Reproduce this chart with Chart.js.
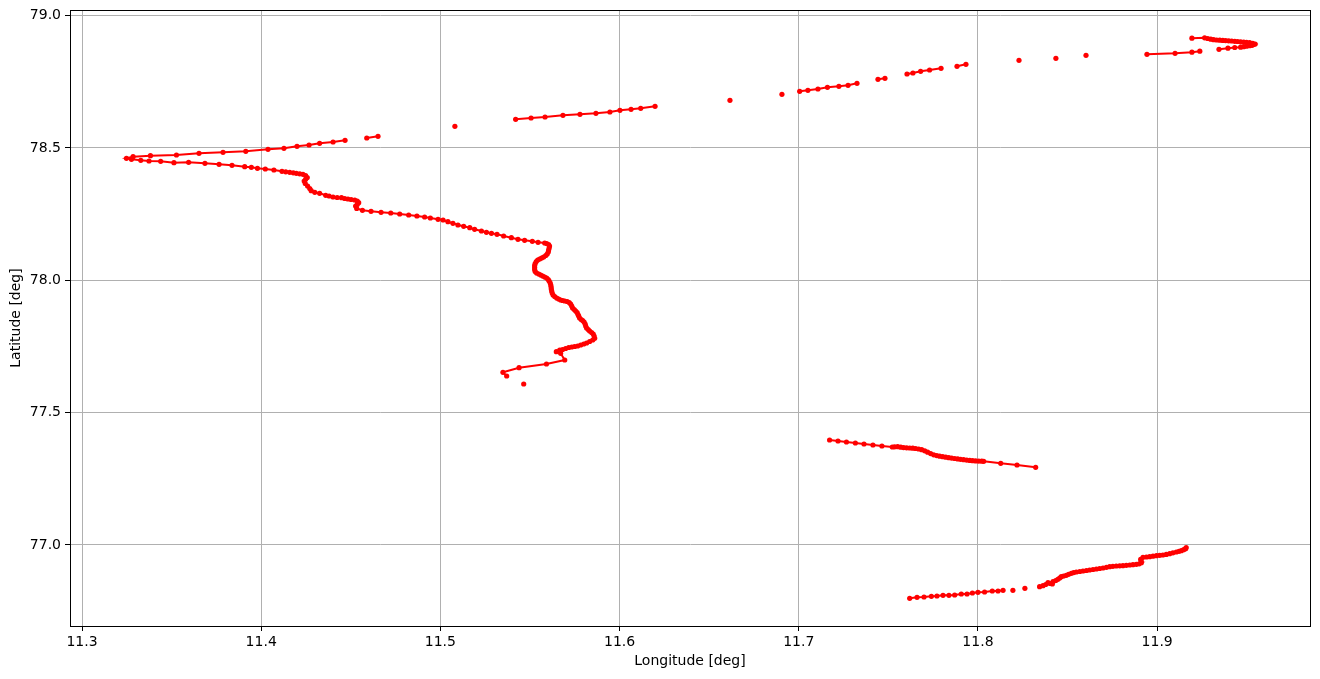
<!DOCTYPE html>
<html>
<head>
<meta charset="utf-8">
<script src="https://cdn.jsdelivr.net/npm/chart.js@4/dist/chart.umd.min.js"></script>
<style>
  html, body { margin: 0; padding: 0; background: #ffffff; }
  #wrap { position: relative; width: 1320px; height: 679px; }
</style>
</head>
<body>
<div id="wrap"><canvas id="c" width="1320" height="679"></canvas></div>
<script>
// ---- Data (longitude / latitude, degrees) ----
const xTicks = [11.3, 11.4, 11.5, 11.6, 11.7, 11.8, 11.9];
const yTicks = [77.0, 77.5, 78.0, 78.5, 79.0];
const xLabel = 'Longitude [deg]';
const yLabel = 'Latitude [deg]';

// Main track (southern end -> western tip -> back east)
const lonA = [11.5370,11.5349,11.5439,11.5592,11.5694,11.5671,11.5647,11.5666,11.5682,11.5699,11.5716,11.5733,11.5749,11.5766,11.5783,11.5800,11.5816,11.5833,11.5850,11.5861,11.5858,11.5853,11.5844,11.5833,11.5825,11.5816,11.5811,11.5808,11.5802,11.5794,11.5786,11.5777,11.5772,11.5768,11.5763,11.5755,11.5747,11.5738,11.5733,11.5727,11.5719,11.5708,11.5694,11.5682,11.5671,11.5660,11.5649,11.5638,11.5629,11.5624,11.5621,11.5619,11.5618,11.5616,11.5613,11.5607,11.5602,11.5593,11.5582,11.5571,11.5560,11.5549,11.5537,11.5529,11.5526,11.5526,11.5526,11.5529,11.5535,11.5543,11.5554,11.5565,11.5576,11.5588,11.5596,11.5602,11.5604,11.5607,11.5609,11.5604,11.5593,11.5582,11.5545,11.5513,11.5470,11.5433,11.5396,11.5353,11.5316,11.5285,11.5257,11.5229,11.5191,11.5164,11.5130,11.5098,11.5070,11.5042,11.5015,11.4987,11.4944,11.4912,11.4869,11.4823,11.4773,11.4723,11.4669,11.4613,11.4565,11.4533,11.4527,11.4536,11.4544,11.4536,11.4522,11.4502,11.4484,11.4466,11.4448,11.4424,11.4401,11.4379,11.4360,11.4326,11.4299,11.4279,11.4271,11.4259,11.4246,11.4240,11.4248,11.4257,11.4248,11.4233,11.4215,11.4196,11.4179,11.4159,11.4137,11.4116,11.4071,11.4023,11.3979,11.3945,11.3908,11.3837,11.3765,11.3686,11.3595,11.3513,11.3439,11.3374,11.3328,11.3276,11.3248,11.3285,11.3382,11.3527,11.3653,11.3787,11.3914,11.4038,11.4127,11.4200,11.4267,11.4326,11.4401,11.4468];
const latA = [77.6383,77.6523,77.6697,77.6837,77.6988,77.7241,77.7302,77.7366,77.7385,77.7422,77.7460,77.7479,77.7498,77.7517,77.7555,77.7593,77.7630,77.7687,77.7744,77.7808,77.7895,77.7971,77.8027,77.8084,77.8141,77.8197,77.8273,77.8349,77.8424,77.8481,77.8519,77.8575,77.8651,77.8707,77.8783,77.8840,77.8896,77.8953,77.9029,77.9104,77.9161,77.9199,77.9218,77.9237,77.9256,77.9293,77.9331,77.9388,77.9444,77.9520,77.9596,77.9671,77.9747,77.9822,77.9898,77.9974,78.0030,78.0087,78.0125,78.0163,78.0200,78.0238,78.0276,78.0333,78.0408,78.0484,78.0560,78.0635,78.0710,78.0767,78.0805,78.0843,78.0880,78.0937,78.0994,78.1070,78.1145,78.1221,78.1296,78.1353,78.1391,78.1410,78.1436,78.1474,78.1512,78.1550,78.1610,78.1674,78.1738,78.1776,78.1814,78.1863,78.1927,78.1988,78.2041,78.2090,78.2154,78.2215,78.2279,78.2305,78.2355,78.2392,78.2430,78.2468,78.2506,78.2543,78.2570,78.2608,78.2646,78.2714,78.2808,78.2865,78.2933,78.2997,78.3035,78.3054,78.3073,78.3091,78.3122,78.3129,78.3148,78.3186,78.3212,78.3288,78.3326,78.3386,78.3469,78.3564,78.3658,78.3753,78.3817,78.3885,78.3961,78.4006,78.4025,78.4044,78.4063,78.4082,78.4101,78.4119,78.4169,78.4206,78.4233,78.4271,78.4293,78.4346,78.4384,78.4422,78.4460,78.4444,78.4497,78.4509,78.4535,78.4573,78.4611,78.4671,78.4709,78.4736,78.4800,78.4837,78.4875,78.4951,78.4989,78.5064,78.5113,78.5178,78.5227,78.5291];

const lonB = [11.4589, 11.4652];
const latB = [78.5378, 78.5442];

const lonC = [11.5420,11.5506,11.5584,11.5684,11.5779,11.5868,11.5946,11.6002,11.6064,11.6118,11.6198];
const latC = [78.6085,78.6134,78.6172,78.6236,78.6274,78.6311,78.6361,78.6425,78.6463,78.6500,78.6576];

const lonD = [11.7005,11.7051,11.7107,11.7160,11.7224,11.7275,11.7325];
const latD = [78.7143,78.7181,78.7230,78.7294,78.7332,78.7370,78.7445];

const lonE = [11.7442, 11.7481];
const latE = [78.7596, 78.7634];

const lonF = [11.7604,11.7637,11.7680,11.7730,11.7794];
const latF = [78.7797,78.7834,78.7899,78.7948,78.8012];

const lonG = [11.7883, 11.7933];
const latG = [78.8088, 78.8163];

const lonH = [11.8943,11.9100,11.9194,11.9238];
const latH = [78.8541,78.8579,78.8621,78.8658];

const lonI = [11.9194,11.9265,11.9282,11.9299,11.9315,11.9332,11.9349,11.9366,11.9382,11.9399,11.9416,11.9433,11.9449,11.9466,11.9483,11.9499,11.9516,11.9533,11.9547,11.9539,11.9530,11.9516,11.9499,11.9483,11.9466,11.9433,11.9395,11.9345];
const latI = [78.9150,78.9165,78.9138,78.9112,78.9093,78.9082,78.9074,78.9067,78.9059,78.9051,78.9044,78.9033,78.9025,78.9014,78.9006,78.8995,78.8980,78.8957,78.8930,78.8912,78.8881,78.8866,78.8847,78.8828,78.8810,78.8798,78.8772,78.8730];

const lonJ = [11.7172,11.7219,11.7266,11.7316,11.7364,11.7414,11.7464,11.7522,11.7535,11.7552,11.7569,11.7585,11.7602,11.7619,11.7636,11.7652,11.7669,11.7686,11.7703,11.7719,11.7736,11.7753,11.7770,11.7786,11.7803,11.7820,11.7837,11.7853,11.7870,11.7887,11.7903,11.7920,11.7937,11.7954,11.7970,11.7987,11.8004,11.8021,11.8032,11.8127,11.8218,11.8322];
const latJ = [77.3965,77.3927,77.3889,77.3851,77.3813,77.3776,77.3738,77.3700,77.3708,77.3711,77.3692,77.3677,77.3670,77.3662,77.3655,77.3643,77.3624,77.3598,77.3556,77.3503,77.3450,77.3405,77.3375,77.3352,77.3333,77.3314,77.3296,77.3280,77.3265,77.3250,77.3235,77.3220,77.3205,77.3193,77.3182,77.3175,77.3167,77.3163,77.3159,77.3084,77.3020,77.2933];

const lonK = [11.7619,11.7660,11.7699,11.7740,11.7771,11.7805,11.7838,11.7870,11.7907,11.7939,11.7969,11.8000,11.8037,11.8080,11.8112,11.8140];
const latK = [76.7982,76.8020,76.8031,76.8057,76.8069,76.8095,76.8095,76.8107,76.8144,76.8144,76.8182,76.8209,76.8220,76.8258,76.8258,76.8284];

const lonL = [11.8344,11.8363,11.8378,11.8391,11.8403,11.8415,11.8419,11.8434,11.8446,11.8456,11.8465,11.8478,11.8493,11.8506,11.8521,11.8534,11.8549,11.8568,11.8586,11.8605,11.8623,11.8642,11.8661,11.8679,11.8698,11.8717,11.8735,11.8753,11.8772,11.8791,11.8809,11.8828,11.8847,11.8865,11.8884,11.8900,11.8912,11.8911,11.8908,11.8921,11.8940,11.8958,11.8977,11.8996,11.9014,11.9032,11.9051,11.9070,11.9088,11.9107,11.9122,11.9135,11.9148,11.9159,11.9162];
const latL = [76.8420,76.8458,76.8503,76.8571,76.8541,76.8522,76.8609,76.8655,76.8700,76.8749,76.8798,76.8825,76.8851,76.8889,76.8927,76.8953,76.8976,76.8995,76.9014,76.9033,76.9051,76.9070,76.9089,76.9108,76.9127,76.9154,76.9176,76.9191,76.9203,76.9210,76.9214,76.9229,76.9240,76.9252,76.9267,76.9286,76.9327,76.9391,76.9456,76.9531,76.9543,76.9554,76.9573,76.9592,76.9607,76.9618,76.9641,76.9667,76.9702,76.9732,76.9758,76.9781,76.9819,76.9856,76.9902];

// Isolated fixes (not joined to neighbours)
const lonIso = [11.5465, 11.5081, 11.6616, 11.6906, 11.8229, 11.8435, 11.8603, 11.8195, 11.8262];
const latIso = [77.6081, 78.5820, 78.6803, 78.7029, 78.8314, 78.8390, 78.8503, 76.8284, 76.8360];

// ---- Build datasets ----
const RED = '#ff0000';
function pts(lon, lat) { return lon.map((x, i) => ({ x: x, y: lat[i] })); }
const lineSegs = [[lonA, latA], [lonB, latB], [lonC, latC], [lonD, latD], [lonE, latE], [lonF, latF],
                  [lonG, latG], [lonH, latH], [lonI, latI], [lonJ, latJ], [lonK, latK], [lonL, latL]];
const datasets = lineSegs.map(s => ({
  data: pts(s[0], s[1]),
  showLine: true,
  borderColor: RED,
  backgroundColor: RED,
  borderWidth: 2,
  pointRadius: 2.6,
  pointBorderWidth: 0,
  pointBackgroundColor: RED,
  tension: 0
}));
datasets.push({
  data: pts(lonIso, latIso),
  showLine: false,
  borderColor: RED,
  backgroundColor: RED,
  pointRadius: 2.6,
  pointBorderWidth: 0,
  pointBackgroundColor: RED
});

const frame = {
  id: 'frame',
  afterDatasetsDraw(chart) {
    const { ctx, chartArea: a } = chart;
    ctx.save();
    ctx.strokeStyle = '#000';
    ctx.lineWidth = 1;
    ctx.strokeRect(Math.round(a.left) + 0.5, Math.round(a.top) + 0.5,
                   Math.round(a.right - a.left), Math.round(a.bottom - a.top));
    ctx.restore();
  }
};

const FONT = { family: 'DejaVu Sans', size: 14 };

new Chart(document.getElementById('c'), {
  type: 'scatter',
  data: { datasets: datasets },
  plugins: [frame],
  options: {
    responsive: false,
    animation: false,
    events: [],
    layout: { padding: { left: 0, right: 10, top: 10, bottom: 0 } },
    plugins: { legend: { display: false }, tooltip: { enabled: false } },
    scales: {
      x: {
        type: 'linear',
        min: 11.2933, max: 11.9853,
        afterBuildTicks: s => { s.ticks = xTicks.map(v => ({ value: v })); },
        afterFit: s => { s.height = 53; s.paddingLeft = 0; s.paddingRight = 0; },
        ticks: { color: '#000', font: FONT, padding: 3, maxRotation: 0, autoSkip: false,
                 callback: v => Number(v).toFixed(1) },
        grid: { color: '#b0b0b0', lineWidth: 1, tickColor: '#000', tickLength: 5, drawTicks: true },
        border: { display: true, color: '#000', width: 1 },
        title: { display: true, text: xLabel, color: '#000', font: FONT, padding: { top: 0, bottom: 9 } }
      },
      y: {
        type: 'linear',
        min: 76.6935, max: 79.0215,
        afterBuildTicks: s => { s.ticks = yTicks.map(v => ({ value: v })); },
        afterFit: s => { s.width = 70; s.paddingTop = 0; s.paddingBottom = 0; },
        ticks: { color: '#000', font: FONT, padding: 4, autoSkip: false,
                 callback: v => Number(v).toFixed(1) },
        grid: { color: '#b0b0b0', lineWidth: 1, tickColor: '#000', tickLength: 5, drawTicks: true },
        border: { display: true, color: '#000', width: 1 },
        title: { display: true, text: yLabel, color: '#000', font: FONT, padding: { top: 8, bottom: 0 } }
      }
    }
  }
});
</script>
</body>
</html>
